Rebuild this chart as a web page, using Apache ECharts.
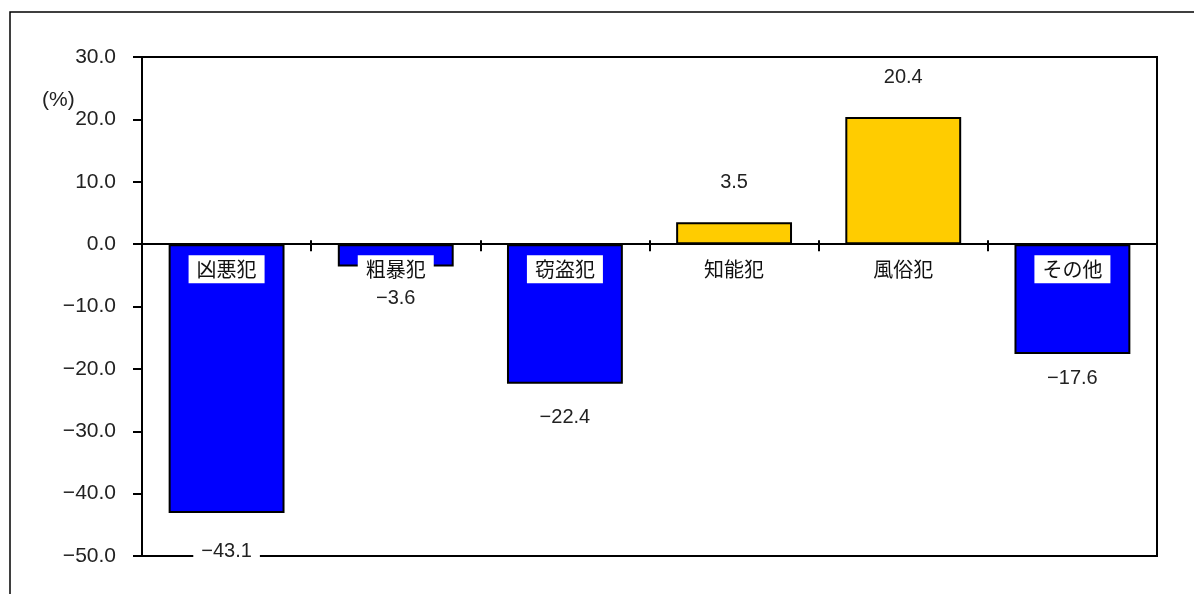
<!DOCTYPE html>
<html>
<head>
<meta charset="utf-8">
<script src="https://cdn.jsdelivr.net/npm/echarts@6/dist/echarts.min.js"></script>
<style>
html,body{margin:0;padding:0;background:#fff;}
#c{width:1194px;height:594px;}
</style>
</head>
<body>
<div id="c"></div>
<script>
const categories = ['凶悪犯', '粗暴犯', '窃盗犯', '知能犯', '風俗犯', 'その他'];
const values = [-43.1, -3.6, -22.4, 3.5, 20.4, -17.6];
const yTicks = { min: -50, max: 30, interval: 10 };
const unitLabel = '(%)';

// label gaps (style, separate from data)
const labelGap = [27, 20, 22, 28, 27, 13];

const FONT = '"Liberation Sans", Arial, sans-serif';
const CJK = '"Noto Sans CJK JP", sans-serif';
const fmt = v => (v < 0 ? '\u2212' : '') + Math.abs(v).toFixed(1);

const H = 594, GRID_TOP = 57, GRID_BOTTOM = 38;
const gridH = H - GRID_TOP - GRID_BOTTOM;
// move the category axis up to the zero line
const zeroOffset = -gridH * (0 - yTicks.min) / (yTicks.max - yTicks.min);

const chart = echarts.init(document.getElementById('c'), null, { renderer: 'canvas' });

const seriesData = values.map((v, i) => ({
  value: v,
  itemStyle: { color: v < 0 ? '#0000FF' : '#FFCC00' },
  label: { position: v < 0 ? 'bottom' : 'top', distance: labelGap[i] }
}));

chart.setOption({
  backgroundColor: '#fff',
  animation: false,
  grid: {
    left: 142, top: GRID_TOP, right: 37, bottom: GRID_BOTTOM,
    show: true, borderColor: '#000', borderWidth: 2, backgroundColor: 'transparent'
  },
  xAxis: [{
    type: 'category',
    data: categories,
    position: 'bottom',
    z: 10,
    offset: zeroOffset,
    axisLine: { onZero: false, lineStyle: { color: '#000', width: 2 } },
    axisTick: { show: true, length: 7, lineStyle: { color: '#000', width: 2 } },
    axisLabel: {
      margin: 11,
      color: '#111',
      fontFamily: CJK,
      fontSize: 20,
      lineHeight: 22,
      backgroundColor: '#fff',
      padding: [3, 8, 3, 8]
    }
  }, {
    type: 'category',
    data: categories,
    position: 'bottom',
    z: 10,
    offset: zeroOffset,
    axisLine: { show: false, onZero: false },
    axisTick: { show: true, inside: true, length: 4, lineStyle: { color: '#000', width: 2 } },
    axisLabel: { show: false }
  }],
  yAxis: {
    type: 'value',
    min: yTicks.min, max: yTicks.max, interval: yTicks.interval,
    axisLine: { show: true, lineStyle: { color: '#000', width: 2 } },
    axisTick: { show: true, length: 9, lineStyle: { color: '#000', width: 2 } },
    splitLine: { show: false },
    axisLabel: {
      margin: 26,
      color: '#222',
      fontFamily: FONT,
      fontSize: 21,
      formatter: fmt
    }
  },
  series: [{
    type: 'bar',
    data: seriesData,
    barWidth: '68.5%',
    itemStyle: { borderColor: '#000', borderWidth: 2 },
    label: {
      show: true,
      color: '#222',
      fontFamily: FONT,
      fontSize: 20,
      backgroundColor: '#fff',
      padding: [2, 8, 2, 8],
      formatter: p => fmt(p.value)
    }
  }],
  graphic: [
    {
      type: 'rect',
      shape: { x: 10, y: 12, width: 1200, height: 600 },
      style: { fill: 'none', stroke: '#000', lineWidth: 1.5 },
      z: 100
    },
    {
      type: 'text',
      left: 42, top: 90,
      style: { text: unitLabel, fill: '#222', fontSize: 21, fontFamily: 'Liberation Sans' }
    }
  ]
});
</script>
</body>
</html>
